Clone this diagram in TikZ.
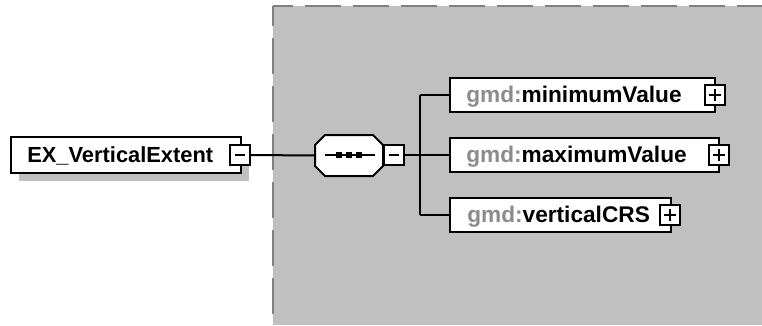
\documentclass[tikz,border=0pt]{standalone}
\usepackage{fontspec}
\setmainfont{Liberation Sans}
\usetikzlibrary{calc}
\definecolor{bggray}{HTML}{C0C0C0}
\definecolor{dashgray}{HTML}{808080}
\definecolor{nsgray}{HTML}{8C8C8C}
\begin{document}
\begin{tikzpicture}[x=0.75pt,y=-0.75pt,
  elbox/.style={draw=black, fill=white, line width=1.5pt, inner sep=0pt},
  lbl/.style={anchor=base west, inner sep=0pt, font=\fontsize{17}{20}\selectfont\bfseries},
  tog/.style={draw=black, fill=white, line width=1.5pt, minimum size=15pt, inner sep=0pt},
  conn/.style={line width=1.5pt},
  frame/.style={dashgray, line width=1.5pt, dash pattern=on 27pt off 9pt, dash phase=12pt}]
\useasboundingbox (0,0) rectangle (762,325);
% group background
\fill[bggray] (273,6) rectangle (762,325);
\draw[frame] (273,6) -- (762,6);
\draw[frame] (273,6) -- (273,325);
% root element
\fill[bggray] (19,145) rectangle (249,181);
\node[elbox, minimum width=172.5pt, minimum height=27pt] (root) at (126,155) {};
\node[lbl, font=\fontsize{16.4}{20}\selectfont\bfseries] (rootlbl) at (27,162) {EX\_VerticalExtent};
\node[tog] (rootminus) at (240,155) {};
\draw[conn] ($(rootminus.center)+(-5,0)$) -- ($(rootminus.center)+(5,0)$);
% sequence compositor
\node[minimum width=51pt, minimum height=30.75pt, inner sep=0pt] (seq) at (349,155.5) {};
\coordinate (spine) at (420,155);
\draw[conn] (rootminus.east) -- (seq.west);
\draw[elbox] (315,145) -- (325,135) -- (373,135) -- (383,145) -- (383,166) -- (373,176) -- (325,176) -- (315,166) -- cycle;
\draw[conn] (325,155) -- (375,155);
\fill (336,152) rectangle (342,158);
\fill (346,152) rectangle (352,158);
\fill (356,152) rectangle (362,158);
\node[tog] (seqminus) at (393.5,155) {};
\draw[conn] ($(seqminus.center)+(-5,0)$) -- ($(seqminus.center)+(5,0)$);
\draw[conn] (seqminus.east) -- (spine);
% children
\node[minimum width=198.75pt, minimum height=25.5pt, inner sep=0pt] (minbox) at (582.5,95) {};
\node[minimum width=201.75pt, minimum height=25.5pt, inner sep=0pt] (maxbox) at (584.5,155) {};
\node[minimum width=165.75pt, minimum height=25.5pt, inner sep=0pt] (crsbox) at (560.5,215) {};
\draw[conn] (spine |- minbox.west) -- (spine |- crsbox.west);
\draw[conn] (spine |- minbox.west) -- (minbox.west);
\draw[conn] (spine |- maxbox.west) -- (maxbox.west);
\draw[conn] (spine |- crsbox.west) -- (crsbox.west);
\draw[elbox] (minbox.north west) rectangle (minbox.south east);
\draw[elbox] (maxbox.north west) rectangle (maxbox.south east);
\draw[elbox] (crsbox.north west) rectangle (crsbox.south east);
\node[lbl] (minlbl) at (466,102) {{\color{nsgray}gmd:}minimumValue};
\node[lbl] (maxlbl) at (466,162) {{\color{nsgray}gmd:}maximumValue};
\node[lbl] (crslbl) at (467,222) {{\color{nsgray}gmd:}verticalCRS};
\node[tog] (minplus) at (715,95) {};
\node[tog] (maxplus) at (718.5,155) {};
\node[tog] (crsplus) at (670,215) {};
\foreach \p in {minplus,maxplus,crsplus}{
  \draw[conn] ($(\p.center)+(-6,0)$) -- ($(\p.center)+(6,0)$);
  \draw[conn] ($(\p.center)+(0,-6)$) -- ($(\p.center)+(0,6)$);
}
\end{tikzpicture}
\end{document}
